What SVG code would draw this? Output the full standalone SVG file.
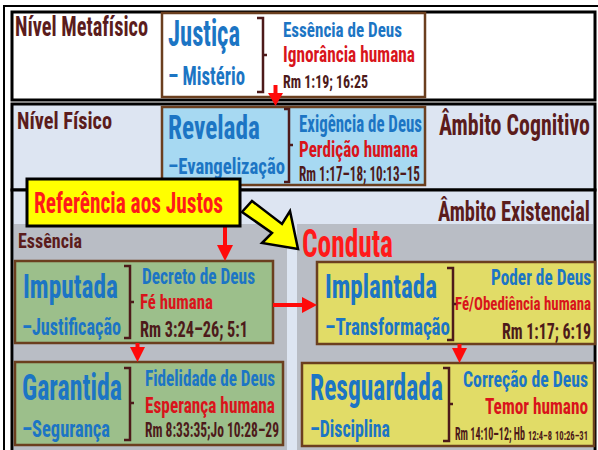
<svg xmlns="http://www.w3.org/2000/svg" width="598" height="450" viewBox="0 0 598 450">
<style>
text{font-family:"Roboto Condensed","DejaVu Sans Condensed","Liberation Sans Narrow","Liberation Sans",sans-serif;font-weight:bold}
.panel{stroke:#000;stroke-width:3}
.box{stroke:#6b3f1f;stroke-width:2.5}
.brk{fill:none;stroke:#4d1a1a;stroke-width:2.5}
.blue{fill:#1c75c4}
.red{fill:#d9141b}
.dark{fill:#4d1a1a}
.ttl{fill:#5b1c1c}
.bright{fill:#ff1a1a}
.arr{fill:#ff0a0a}
.shaft{stroke:#ff0a0a;stroke-width:4}
</style>
<rect x="4" y="6" width="600" height="450" fill="#fff" stroke="#000" stroke-width="2"/>
<rect class="panel" x="12" y="12" width="583" height="88" fill="#fff"/>
<rect class="panel" x="12" y="104" width="583" height="86" fill="#dde5f2"/>
<rect class="panel" x="12" y="190" width="583" height="270" fill="#dde5f2"/>
<rect x="14" y="224" width="273" height="236" fill="#b9bdc5"/>
<rect x="297" y="224" width="296" height="236" fill="#b9bdc5"/>

<text class="ttl" x="15" y="36" font-size="27" textLength="133" lengthAdjust="spacingAndGlyphs">Nível Metafísico</text>
<text class="ttl" x="17" y="129" font-size="24" textLength="95" lengthAdjust="spacingAndGlyphs">Nível Físico</text>
<text class="ttl" x="439" y="135" font-size="30" textLength="151" lengthAdjust="spacingAndGlyphs">Âmbito Cognitivo</text>
<text class="ttl" x="438" y="221" font-size="28" textLength="152" lengthAdjust="spacingAndGlyphs">Âmbito Existencial</text>
<text class="ttl" x="18" y="248" font-size="21" textLength="64" lengthAdjust="spacingAndGlyphs">Essência</text>
<text class="bright" x="302" y="257" font-size="38" textLength="91" lengthAdjust="spacingAndGlyphs">Conduta</text>

<g id="justica">
<rect class="box" x="162" y="13" width="263" height="84" fill="#fff"/>
<text class="blue" x="168" y="46" font-size="36" textLength="72" lengthAdjust="spacingAndGlyphs">Justiça</text>
<text class="blue" x="168" y="85" font-size="25" textLength="77" lengthAdjust="spacingAndGlyphs">– Mistério</text>
<path class="brk" d="M257,18 H263 V92 H257 M263,55 H267"/>
<text class="blue" x="283" y="37" font-size="21" textLength="119" lengthAdjust="spacingAndGlyphs">Essência de Deus</text>
<text class="red" x="283" y="62" font-size="22" textLength="132" lengthAdjust="spacingAndGlyphs">Ignorância humana</text>
<text class="dark" x="283" y="88" font-size="18" textLength="85" lengthAdjust="spacingAndGlyphs">Rm 1:19; 16:25</text>
</g>

<g id="revelada">
<rect class="box" x="162" y="107" width="263" height="78" fill="#a7d9f2"/>
<text class="blue" x="168" y="139" font-size="33" textLength="92" lengthAdjust="spacingAndGlyphs">Revelada</text>
<text class="blue" x="168" y="174" font-size="22" textLength="117" lengthAdjust="spacingAndGlyphs">–Evangelização</text>
<path class="brk" d="M284,109 H289 V182 H284 M289,145 H293"/>
<text class="blue" x="299" y="132" font-size="23" textLength="123" lengthAdjust="spacingAndGlyphs">Exigência de Deus</text>
<text class="red" x="299" y="157" font-size="22" textLength="119" lengthAdjust="spacingAndGlyphs">Perdição humana</text>
<text class="dark" x="299" y="181" font-size="20" textLength="121" lengthAdjust="spacingAndGlyphs">Rm 1:17–18; 10:13–15</text>
</g>

<g id="imputada">
<rect class="box" x="15" y="261" width="258" height="82" fill="#9cbf8b"/>
<text class="blue" x="23" y="298" font-size="34" textLength="95" lengthAdjust="spacingAndGlyphs">Imputada</text>
<text class="blue" x="22" y="335" font-size="23" textLength="99" lengthAdjust="spacingAndGlyphs">–Justificação</text>
<path class="brk" d="M124,266 H130 V338 H124 M130,302 H134"/>
<text class="blue" x="142" y="284" font-size="22" textLength="113" lengthAdjust="spacingAndGlyphs">Decreto de Deus</text>
<text class="red" x="140" y="309" font-size="21" textLength="73" lengthAdjust="spacingAndGlyphs">Fé humana</text>
<text class="dark" x="140" y="337" font-size="22" textLength="108" lengthAdjust="spacingAndGlyphs">Rm 3:24–26; 5:1</text>
</g>

<g id="implantada">
<rect class="box" x="317" y="262" width="278" height="82" fill="#e1dc67"/>
<text class="blue" x="325" y="298" font-size="34" textLength="112" lengthAdjust="spacingAndGlyphs">Implantada</text>
<text class="blue" x="325" y="335" font-size="23" textLength="125" lengthAdjust="spacingAndGlyphs">–Transformação</text>
<path class="brk" d="M447,268 H453 V340 H447 M453,304 H457"/>
<text class="blue" x="491" y="285" font-size="22" textLength="100" lengthAdjust="spacingAndGlyphs">Poder de Deus</text>
<text class="red" x="455" y="310" font-size="19" textLength="136" lengthAdjust="spacingAndGlyphs">Fé/Obediência humana</text>
<text class="dark" x="502" y="339" font-size="22" textLength="89" lengthAdjust="spacingAndGlyphs">Rm 1:17; 6:19</text>
</g>

<g id="garantida">
<rect class="box" x="15" y="362" width="268" height="83" fill="#9cbf8b"/>
<text class="blue" x="22" y="400" font-size="36" textLength="100" lengthAdjust="spacingAndGlyphs">Garantida</text>
<text class="blue" x="22" y="437" font-size="23" textLength="88" lengthAdjust="spacingAndGlyphs">–Segurança</text>
<path class="brk" d="M124,368 H130 V440 H124 M130,403 H134"/>
<text class="blue" x="145" y="386" font-size="22" textLength="130" lengthAdjust="spacingAndGlyphs">Fidelidade de Deus</text>
<text class="red" x="145" y="413" font-size="22" textLength="130" lengthAdjust="spacingAndGlyphs">Esperança humana</text>
<text class="dark" x="145" y="437" font-size="20" textLength="134" lengthAdjust="spacingAndGlyphs">Rm 8:33:35;Jo 10:28–29</text>
</g>

<g id="resguardada">
<rect class="box" x="302" y="363" width="292" height="83" fill="#e1dc67"/>
<text class="blue" x="310" y="400" font-size="36" textLength="133" lengthAdjust="spacingAndGlyphs">Resguardada</text>
<text class="blue" x="310" y="437" font-size="24" textLength="80" lengthAdjust="spacingAndGlyphs">–Disciplina</text>
<path class="brk" d="M443,368 H449 V441 H443 M449,404 H453"/>
<text class="blue" x="463" y="387" font-size="22" textLength="125" lengthAdjust="spacingAndGlyphs">Correção de Deus</text>
<text class="red" x="485" y="414" font-size="22" textLength="103" lengthAdjust="spacingAndGlyphs">Temor humano</text>
<text class="dark" x="455" y="440" font-size="18" textLength="70" lengthAdjust="spacingAndGlyphs">Rm 14:10–12; Hb</text>
<text class="dark" x="528" y="440" font-size="13" textLength="24" lengthAdjust="spacingAndGlyphs">12:4–8</text>
<text class="dark" x="555" y="440" font-size="13" textLength="33" lengthAdjust="spacingAndGlyphs">10:26–31</text>
</g>

<g id="connectors">
<line class="shaft" x1="275.5" y1="85" x2="275.5" y2="95"/>
<polygon class="arr" points="268,93 283,93 275.5,106"/>
<line class="shaft" x1="225" y1="226" x2="225" y2="247"/>
<polygon class="arr" points="217,245 233,245 225,261"/>
<line class="shaft" x1="273" y1="305" x2="304" y2="305"/>
<polygon class="arr" points="302,297 302,313 317,305"/>
<line class="shaft" x1="137.5" y1="343" x2="137.5" y2="349"/>
<polygon class="arr" points="130,347 145,347 137.5,362"/>
<line class="shaft" x1="459.5" y1="344" x2="459.5" y2="350"/>
<polygon class="arr" points="452,348 467,348 459.5,363"/>
<polygon points="252,201 282,224 290,211 298,249 262,243 272,233 242,212" fill="#ffff00" stroke="#000" stroke-width="2.5" stroke-linejoin="miter"/>
</g>

<g id="callout">
<rect x="27" y="179" width="213" height="47" fill="#ffff00" stroke="#000" stroke-width="3"/>
<text class="bright" x="34" y="213" font-size="29" textLength="189" lengthAdjust="spacingAndGlyphs">Referência aos Justos</text>
</g>
</svg>
